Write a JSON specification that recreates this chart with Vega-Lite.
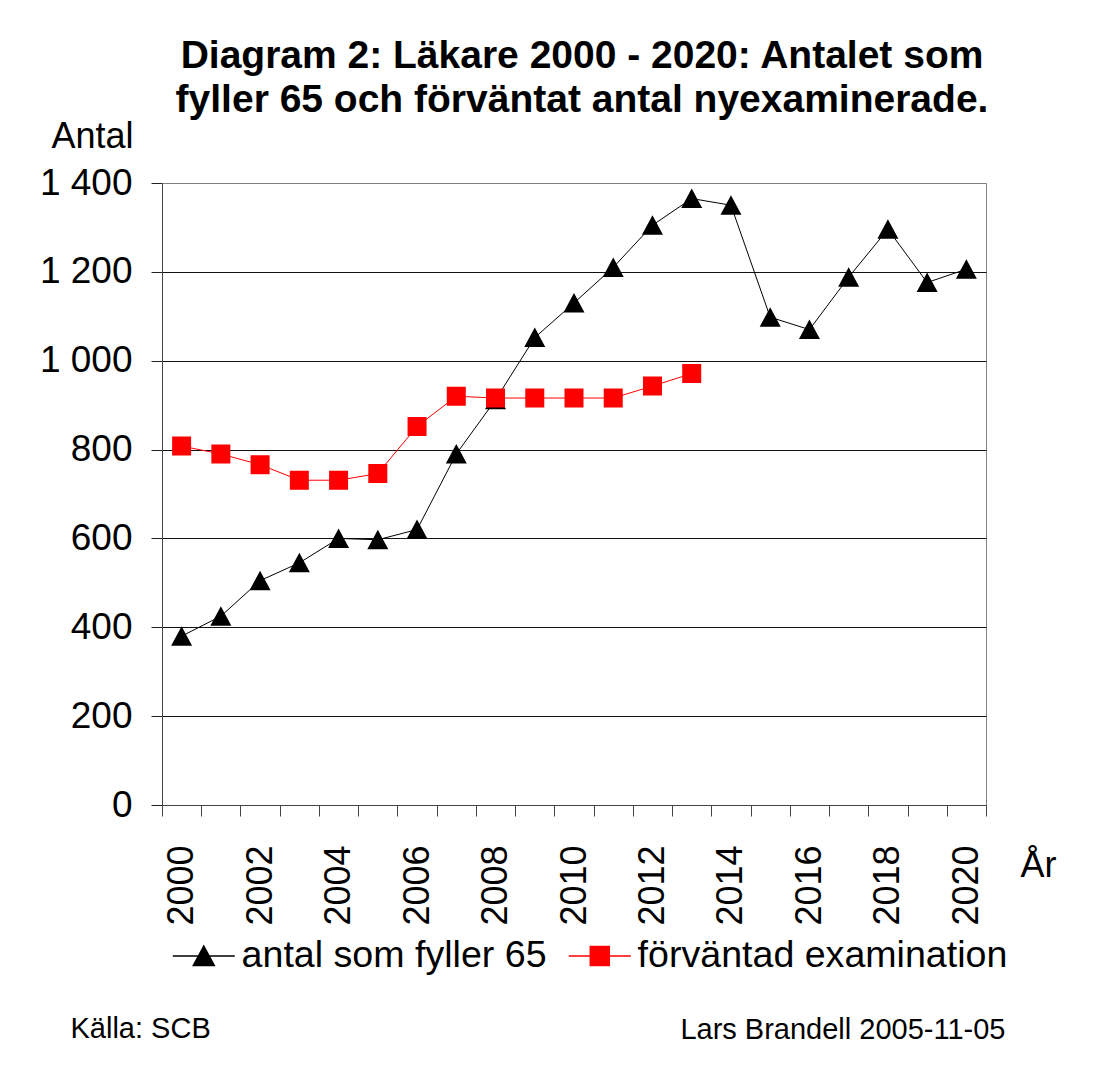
{
  "$schema": "https://vega.github.io/schema/vega-lite/v6.json",
  "autosize": "none",
  "width": 824,
  "height": 622,
  "padding": {"left": 162, "top": 183, "right": 123, "bottom": 274},
  "background": "white",
  "config": {
    "font": "Liberation Sans",
    "view": {"stroke": "#808080", "strokeWidth": 1},
    "axis": {"labelFont": "Liberation Sans", "titleFont": "Liberation Sans", "labelColor": "black", "titleColor": "black", "titleFontWeight": "normal"}
  },
  "title": {
    "text": ["Diagram 2: Läkare 2000 - 2020: Antalet som", "fyller 65 och förväntat antal nyexaminerade."],
    "fontSize": 39, "font": "Liberation Sans", "fontWeight": "bold", "color": "black",
    "lineHeight": 44, "anchor": "middle", "frame": "group", "dx": 8, "offset": -2
  },
  "data": {"values": [
    {"year": 2000, "series": "antal som fyller 65", "value": 380},
    {"year": 2001, "series": "antal som fyller 65", "value": 425},
    {"year": 2002, "series": "antal som fyller 65", "value": 505},
    {"year": 2003, "series": "antal som fyller 65", "value": 545},
    {"year": 2004, "series": "antal som fyller 65", "value": 600},
    {"year": 2005, "series": "antal som fyller 65", "value": 597},
    {"year": 2006, "series": "antal som fyller 65", "value": 620},
    {"year": 2007, "series": "antal som fyller 65", "value": 790},
    {"year": 2008, "series": "antal som fyller 65", "value": 912},
    {"year": 2009, "series": "antal som fyller 65", "value": 1052},
    {"year": 2010, "series": "antal som fyller 65", "value": 1130},
    {"year": 2011, "series": "antal som fyller 65", "value": 1210},
    {"year": 2012, "series": "antal som fyller 65", "value": 1305},
    {"year": 2013, "series": "antal som fyller 65", "value": 1365},
    {"year": 2014, "series": "antal som fyller 65", "value": 1350},
    {"year": 2015, "series": "antal som fyller 65", "value": 1098},
    {"year": 2016, "series": "antal som fyller 65", "value": 1070},
    {"year": 2017, "series": "antal som fyller 65", "value": 1188},
    {"year": 2018, "series": "antal som fyller 65", "value": 1296},
    {"year": 2019, "series": "antal som fyller 65", "value": 1176},
    {"year": 2020, "series": "antal som fyller 65", "value": 1206},
    {"year": 2000, "series": "förväntad examination", "value": 808},
    {"year": 2001, "series": "förväntad examination", "value": 790},
    {"year": 2002, "series": "förväntad examination", "value": 766},
    {"year": 2003, "series": "förväntad examination", "value": 731},
    {"year": 2004, "series": "förväntad examination", "value": 731},
    {"year": 2005, "series": "förväntad examination", "value": 746},
    {"year": 2006, "series": "förväntad examination", "value": 852},
    {"year": 2007, "series": "förväntad examination", "value": 920},
    {"year": 2008, "series": "förväntad examination", "value": 916},
    {"year": 2009, "series": "förväntad examination", "value": 916},
    {"year": 2010, "series": "förväntad examination", "value": 916},
    {"year": 2011, "series": "förväntad examination", "value": 916},
    {"year": 2012, "series": "förväntad examination", "value": 943},
    {"year": 2013, "series": "förväntad examination", "value": 971}
  ]},
  "resolve": {"axis": {"x": "independent", "y": "independent"}},
  "layer": [
    {
      "mark": {"type": "line", "strokeWidth": 1},
      "encoding": {
        "x": {
          "field": "year", "type": "ordinal",
          "scale": {"type": "band", "paddingInner": 0, "paddingOuter": 0},
          "axis": {
            "orient": "bottom",
            "title": "År", "titleFontSize": 36, "titleAngle": 0, "titleAlign": "center", "titleBaseline": "alphabetic",
            "titleX": 876, "titleY": 71,
            "labelAngle": -90, "labelFontSize": 36, "labelPadding": 29, "labelAlign": "right", "labelBaseline": "middle",
            "labelExpr": "datum.value % 2 == 0 ? datum.label : ''",
            "tickBand": "extent", "tickSize": 11, "tickColor": "#444", "domainColor": "#444",
            "grid": false, "labelOverlap": false
          }
        },
        "y": {
          "field": "value", "type": "quantitative",
          "scale": {"domain": [0, 1400], "nice": false, "zero": true},
          "axis": {
            "orient": "left",
            "values": [0, 200, 400, 600, 800, 1000, 1200, 1400],
            "labelExpr": "replace(format(datum.value, ','), ',', ' ')",
            "labelFontSize": 37, "labelPadding": 19,
            "tickSize": 11, "tickColor": "#222", "domainColor": "#444",
            "grid": true,
            "gridColor": {"condition": {"test": "datum.value === 1400 || datum.value === 0", "value": "#808080"}, "value": "#111"},
            "gridWidth": 1,
            "title": "Antal", "titleFontSize": 36, "titleAngle": 0, "titleAlign": "center", "titleBaseline": "alphabetic",
            "titleX": -70, "titleY": -36
          }
        },
        "color": {
          "field": "series", "type": "nominal",
          "scale": {"domain": ["antal som fyller 65", "förväntad examination"], "range": ["#000000", "#ff0000"]}
        },
        "detail": {"field": "series"}
      }
    },
    {
      "mark": {"type": "point", "filled": true, "strokeWidth": 0, "opacity": 1, "size": 400},
      "encoding": {
        "x": {
          "field": "year", "type": "ordinal",
          "axis": {
            "orient": "bottom", "labels": false, "ticks": false, "domain": false, "grid": false,
            "title": "Källa: SCB", "titleFontSize": 29, "titleAngle": 0, "titleAlign": "left", "titleBaseline": "alphabetic",
            "titleX": -92, "titleY": 232
          }
        },
        "y": {
          "field": "value", "type": "quantitative",
          "axis": {
            "orient": "right", "labels": false, "ticks": false, "domain": false, "grid": false,
            "title": "Lars Brandell 2005-11-05", "titleFontSize": 29, "titleAngle": 0, "titleAlign": "right", "titleBaseline": "alphabetic",
            "titleX": 19, "titleY": 855
          }
        },
        "color": {
          "field": "series", "type": "nominal",
          "legend": {
            "title": null, "orient": "none", "direction": "horizontal", "columns": 2,
            "legendX": 23, "legendY": 754, "padding": 0,
            "labelFontSize": 37.6, "labelFont": "Liberation Sans", "labelColor": "black", "labelLimit": 600,
            "labelOffset": 19, "columnPadding": 18, "symbolSize": 400,
            "encode": {"symbols": {"update": {"strokeWidth": {"value": 1}, "opacity": {"value": 1}, "stroke": {"scale": "color", "field": "value"}}}}
          }
        },
        "shape": {
          "field": "series", "type": "nominal",
          "scale": {"domain": ["antal som fyller 65", "förväntad examination"], "range": ["M0,-1L1.05,0.95L-1.05,0.95ZM-3.1,0H3.1", "M-0.95,-0.95H0.95V0.95H-0.95ZM-3.1,0H3.1"]}
        }
      }
    }
  ]
}
